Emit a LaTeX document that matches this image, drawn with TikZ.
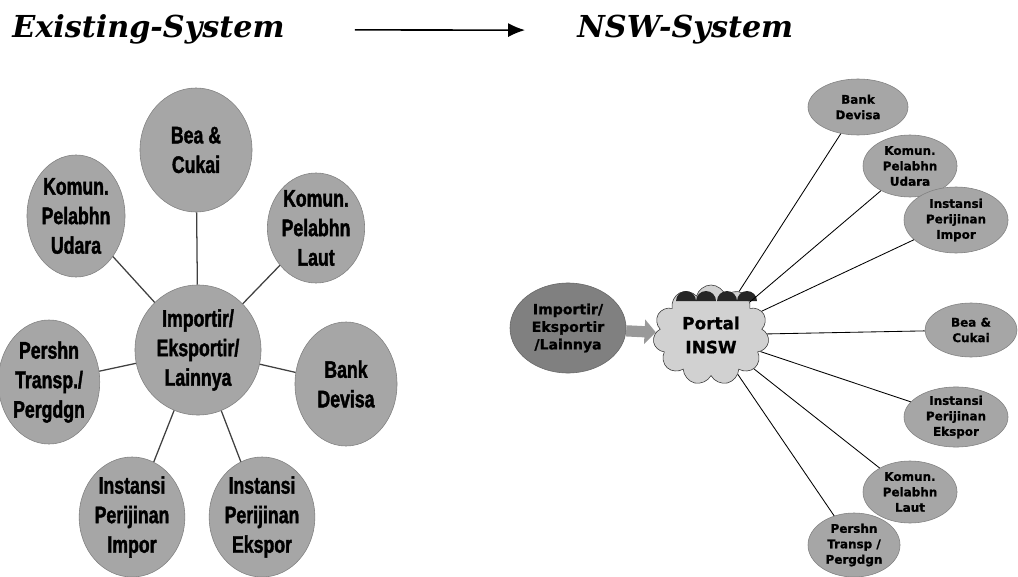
\documentclass[tikz,border=0pt]{standalone}
\usepackage{fontspec}
\usetikzlibrary{positioning,shapes.geometric,shapes.symbols,arrows.meta}

\newfontfamily\bigfont[FakeStretch=0.74, BoldFont={Liberation Sans Bold}, BoldFeatures={FakeBold=1.6}]{Liberation Sans}
\newfontfamily\smallfont[BoldFeatures={FakeBold=1}]{DejaVu Sans}
\newfontfamily\titlefont{DejaVu Serif}

\tikzset{
  bigball/.style={ellipse, draw=black!50, fill=black!35, inner sep=0pt, align=center,
    font=\bigfont\bfseries\fontsize{17}{21}\selectfont},
  smallball/.style={ellipse, draw=black!50, fill=black!35, inner sep=0pt, align=center,
    font=\smallfont\bfseries\fontsize{8.5}{11}\selectfont},
  spoke/.style={draw=black!75, line width=0.9pt},
  ray/.style={draw=black, line width=0.6pt},
  heading/.style={inner sep=0pt, font=\titlefont\bfseries\itshape\fontsize{21.5}{25}\selectfont}
}

\begin{document}
\begin{tikzpicture}[x=0.025cm, y=-0.025cm]

        \useasboundingbox (0,0) rectangle (1018,577);

        % Headings
        \node[heading, anchor=base west] (exist) at (12,38) {Existing-System};
        \node[heading, anchor=base west] (nsw) at (577,38) {NSW-System};
        \draw[-{Latex[length=12pt,width=10pt]}, line width=1.1pt, shorten <=1.75cm, shorten >=1.3cm] (exist.east) -- (nsw.west);

        % Existing system: star around the trader
        \node[bigball, minimum width=3.15cm, minimum height=3.25cm] (ctr) at (198,350) {Importir/\\Eksportir/\\Lainnya};
        \node[bigball, minimum width=2.8cm, minimum height=3.1cm] (bea) at (196,150) {Bea \&\\Cukai};
        \node[bigball, minimum width=2.45cm, minimum height=3.05cm] (udara) at (76,216) {Komun.\\Pelabhn\\Udara};
        \node[bigball, minimum width=2.4cm, minimum height=2.75cm] (laut) at (316,228) {Komun.\\Pelabhn\\Laut};
        \node[bigball, minimum width=2.55cm, minimum height=3.1cm] (bank) at (346,384) {Bank\\Devisa};
        \node[bigball, minimum width=2.45cm, minimum height=3.1cm] (persh) at (49,382) {Pershn\\Transp./\\Pergdgn};
        \node[bigball, minimum width=2.45cm, minimum height=3cm] (impor) at (132,517) {Instansi\\Perijinan\\Impor};
        \node[bigball, minimum width=2.5cm, minimum height=3cm] (ekspor) at (262,517) {Instansi\\Perijinan\\Ekspor};

        \foreach \n in {bea,udara,laut,bank,persh,impor,ekspor}
          \draw[spoke] (ctr) -- (\n);

        % NSW system: everything through the portal
        \node[ellipse, draw=black!60, fill=black!50, inner sep=0pt, align=center,
          minimum width=2.9cm, minimum height=2.25cm,
          font=\smallfont\bfseries\fontsize{10}{12.5}\selectfont] (imp) at (568,328) {Importir/\\Eksportir\\/Lainnya};
        \node[cloud, cloud puffs=11, cloud ignores aspect, draw=black!80, fill=black!18, inner sep=0pt,
          align=center, minimum width=2.9cm, minimum height=2.5cm,
          font=\smallfont\bfseries\fontsize{12}{17}\selectfont] (portal) at (711,335) {Portal\\INSW};
        \foreach \bx in {686,706,727,747}
          \fill[black!85] (\bx-10,301) arc[start angle=180, end angle=360, x radius=10, y radius=10];
        \draw[-{Triangle[length=8pt,width=17pt]}, line width=8pt, black!40] (imp) -- (portal);

        \node[smallball, minimum width=2.5cm, minimum height=1.4cm] (nbank) at (858,107) {Bank\\Devisa};
        \node[smallball, minimum width=2.35cm, minimum height=1.55cm] (nudara) at (910,166) {Komun.\\Pelabhn\\Udara};
        \node[smallball, minimum width=2.6cm, minimum height=1.65cm] (nimpor) at (956,220) {Instansi\\Perijinan\\Impor};
        \node[smallball, minimum width=2.3cm, minimum height=1.35cm] (nbea) at (971,330) {Bea \&\\Cukai};
        \node[smallball, minimum width=2.6cm, minimum height=1.5cm] (nekspor) at (956,417) {Instansi\\Perijinan\\Ekspor};
        \node[smallball, minimum width=2.35cm, minimum height=1.55cm] (nlaut) at (910,492) {Komun.\\Pelabhn\\Laut};
        \node[smallball, minimum width=2.3cm, minimum height=1.6cm] (npersh) at (854,545) {Pershn\\Transp /\\Pergdgn};

        \foreach \n in {nbank,nudara,nimpor,nbea,nekspor,nlaut,npersh}
          \draw[ray] (portal) -- (\n);

\end{tikzpicture}
\end{document}
